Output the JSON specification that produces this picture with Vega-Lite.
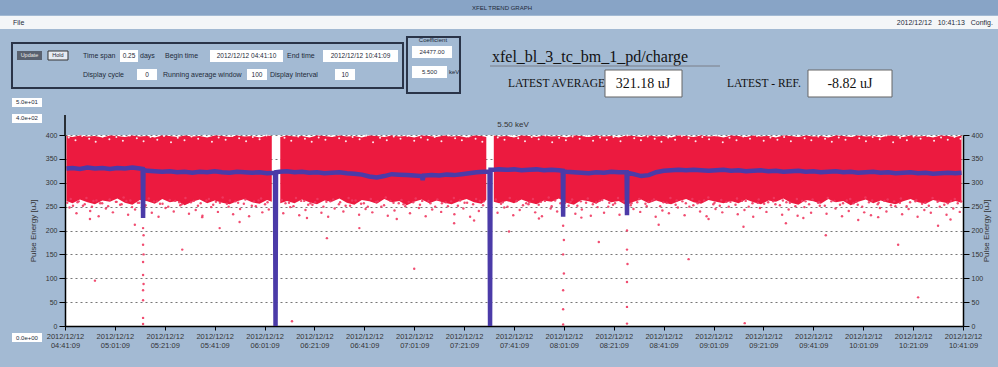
{
"$schema": "https://vega.github.io/schema/vega-lite/v6.json",
"width": 898, "height": 191,
"autosize": {"type": "none"},
"padding": {"left": 65, "top": 135, "right": 35, "bottom": 41},
"background": "#a3bad3",
"config": {"view": {"fill": "white", "stroke": null}, "font": "Liberation Sans",
 "text": {"font": "Liberation Sans", "fontSize": 7, "color": "#1e2a3a", "baseline": "middle"}},
"data": {"values": [{}]},
"datasets": {
 "band": [
  {"m":0.6,"lo":262,"hi":398},{"m":3,"lo":257,"hi":396},{"m":6,"lo":265,"hi":399},{"m":9,"lo":259,"hi":397},{"m":12,"lo":255,"hi":398},{"m":15,"lo":263,"hi":395},{"m":18,"lo":260,"hi":399},{"m":21,"lo":267,"hi":398},{"m":24,"lo":258,"hi":396},{"m":27,"lo":254,"hi":399},{"m":30,"lo":264,"hi":397},{"m":33,"lo":261,"hi":398},{"m":36,"lo":256,"hi":395},{"m":39,"lo":266,"hi":399},{"m":42,"lo":259,"hi":398},{"m":45,"lo":262,"hi":396},{"m":48,"lo":253,"hi":399},{"m":51,"lo":260,"hi":397},{"m":54,"lo":265,"hi":398},{"m":57,"lo":257,"hi":395},{"m":60,"lo":263,"hi":399},{"m":63,"lo":258,"hi":398},{"m":66,"lo":255,"hi":396},{"m":69,"lo":261,"hi":399},{"m":72,"lo":266,"hi":397},{"m":75,"lo":259,"hi":398},{"m":78,"lo":256,"hi":395},{"m":81,"lo":264,"hi":399},{"m":82.9,"lo":260,"hi":398},
  {"m":83,"lo":null,"hi":null},{"m":86.2,"lo":null,"hi":null},
  {"m":86.3,"lo":257,"hi":396},{"m":89,"lo":262,"hi":399},{"m":92,"lo":257,"hi":397},{"m":95,"lo":265,"hi":398},{"m":98,"lo":259,"hi":395},{"m":101,"lo":255,"hi":399},{"m":104,"lo":263,"hi":398},{"m":107,"lo":260,"hi":396},{"m":110,"lo":267,"hi":399},{"m":113,"lo":258,"hi":397},{"m":116,"lo":254,"hi":398},{"m":119,"lo":264,"hi":395},{"m":122,"lo":261,"hi":399},{"m":125,"lo":256,"hi":398},{"m":128,"lo":266,"hi":396},{"m":131,"lo":259,"hi":399},{"m":134,"lo":262,"hi":397},{"m":137,"lo":253,"hi":398},{"m":140,"lo":260,"hi":395},{"m":143,"lo":265,"hi":399},{"m":146,"lo":257,"hi":398},{"m":149,"lo":263,"hi":396},{"m":152,"lo":258,"hi":399},{"m":155,"lo":255,"hi":397},{"m":158,"lo":261,"hi":398},{"m":161,"lo":266,"hi":395},{"m":164,"lo":259,"hi":399},{"m":167,"lo":256,"hi":398},{"m":168.9,"lo":264,"hi":396},
  {"m":169,"lo":null,"hi":null},{"m":171.8,"lo":null,"hi":null},
  {"m":171.9,"lo":260,"hi":399},{"m":174,"lo":257,"hi":397},{"m":177,"lo":262,"hi":398},{"m":180,"lo":257,"hi":395},{"m":183,"lo":265,"hi":399},{"m":186,"lo":259,"hi":398},{"m":189,"lo":255,"hi":396},{"m":192,"lo":263,"hi":399},{"m":195,"lo":260,"hi":397},{"m":198,"lo":267,"hi":398},{"m":201,"lo":258,"hi":395},{"m":204,"lo":254,"hi":399},{"m":207,"lo":264,"hi":398},{"m":210,"lo":261,"hi":396},{"m":213,"lo":256,"hi":399},{"m":216,"lo":266,"hi":397},{"m":219,"lo":259,"hi":398},{"m":222,"lo":262,"hi":395},{"m":225,"lo":253,"hi":399},{"m":228,"lo":260,"hi":398},{"m":231,"lo":265,"hi":396},{"m":234,"lo":257,"hi":399},{"m":237,"lo":263,"hi":397},{"m":240,"lo":258,"hi":398},{"m":243,"lo":255,"hi":395},{"m":246,"lo":261,"hi":399},{"m":249,"lo":266,"hi":398},{"m":252,"lo":259,"hi":396},{"m":255,"lo":256,"hi":399},{"m":258,"lo":264,"hi":397},{"m":261,"lo":260,"hi":398},{"m":264,"lo":257,"hi":395},{"m":267,"lo":262,"hi":399},{"m":270,"lo":257,"hi":398},{"m":273,"lo":265,"hi":396},{"m":276,"lo":259,"hi":399},{"m":279,"lo":255,"hi":397},{"m":282,"lo":263,"hi":398},{"m":285,"lo":260,"hi":395},{"m":288,"lo":267,"hi":399},{"m":291,"lo":258,"hi":398},{"m":294,"lo":254,"hi":396},{"m":297,"lo":264,"hi":399},{"m":300,"lo":261,"hi":397},{"m":303,"lo":256,"hi":398},{"m":306,"lo":266,"hi":395},{"m":309,"lo":259,"hi":399},{"m":312,"lo":262,"hi":398},{"m":315,"lo":253,"hi":396},{"m":318,"lo":260,"hi":399},{"m":321,"lo":265,"hi":397},{"m":324,"lo":257,"hi":398},{"m":327,"lo":263,"hi":395},{"m":330,"lo":258,"hi":399},{"m":333,"lo":255,"hi":398},{"m":336,"lo":261,"hi":396},{"m":339,"lo":266,"hi":399},{"m":342,"lo":259,"hi":397},{"m":345,"lo":256,"hi":398},{"m":348,"lo":264,"hi":395},{"m":351,"lo":260,"hi":399},{"m":354,"lo":257,"hi":398},{"m":357,"lo":262,"hi":396},{"m":359.4,"lo":258,"hi":399}
 ],
 "avg": [
  {"m":0.6,"v":330},{"m":3,"v":331},{"m":6,"v":329},{"m":9,"v":332},{"m":12,"v":330},{"m":15,"v":331},{"m":18,"v":329},{"m":21,"v":331},{"m":24,"v":330},{"m":27,"v":332},{"m":30,"v":330},{"m":31.15,"v":329},{"m":31.3,"v":226},{"m":31.45,"v":327},{"m":33,"v":325},{"m":36,"v":324},{"m":39,"v":323},{"m":42,"v":324},{"m":45,"v":322},{"m":48,"v":323},{"m":51,"v":321},{"m":54,"v":323},{"m":57,"v":322},{"m":60,"v":324},{"m":63,"v":322},{"m":66,"v":321},{"m":69,"v":323},{"m":72,"v":322},{"m":75,"v":321},{"m":78,"v":322},{"m":81,"v":320},{"m":84.2,"v":321},{"m":84.4,"v":0},{"m":84.6,"v":322},
  {"m":86,"v":323},{"m":89,"v":324},{"m":92,"v":322},{"m":95,"v":323},{"m":98,"v":321},{"m":101,"v":322},{"m":104,"v":320},{"m":107,"v":321},{"m":110,"v":322},{"m":113,"v":320},{"m":116,"v":319},{"m":119,"v":317},{"m":122,"v":313},{"m":125,"v":311},{"m":128,"v":314},{"m":131,"v":318},{"m":134,"v":317},{"m":137,"v":316},{"m":140,"v":315},{"m":143,"v":314},{"m":143.4,"v":306},{"m":143.8,"v":315},{"m":147,"v":316},{"m":150,"v":315},{"m":153,"v":317},{"m":156,"v":316},{"m":159,"v":318},{"m":162,"v":320},{"m":165,"v":322},{"m":168,"v":323},{"m":170.2,"v":323},{"m":170.4,"v":0},{"m":170.6,"v":327},
  {"m":171.9,"v":327},{"m":174,"v":328},{"m":177,"v":327},{"m":180,"v":328},{"m":183,"v":326},{"m":186,"v":327},{"m":189,"v":328},{"m":192,"v":326},{"m":195,"v":327},{"m":198,"v":326},{"m":199.55,"v":325},{"m":199.7,"v":229},{"m":199.85,"v":324},{"m":201,"v":323},{"m":204,"v":322},{"m":207,"v":321},{"m":210,"v":320},{"m":213,"v":322},{"m":216,"v":321},{"m":219,"v":323},{"m":222,"v":322},{"m":225.15,"v":322},{"m":225.3,"v":232},{"m":225.45,"v":321},{"m":228,"v":318},{"m":231,"v":314},{"m":234,"v":316},{"m":237,"v":322},{"m":240,"v":325},{"m":243,"v":326},{"m":246,"v":327},{"m":249,"v":326},{"m":252,"v":327},{"m":255,"v":326},{"m":258,"v":325},{"m":261,"v":326},{"m":264,"v":327},{"m":267,"v":325},{"m":270,"v":326},{"m":273,"v":324},{"m":276,"v":325},{"m":279,"v":326},{"m":282,"v":324},{"m":285,"v":325},{"m":288,"v":323},{"m":291,"v":324},{"m":294,"v":325},{"m":297,"v":323},{"m":300,"v":324},{"m":303,"v":322},{"m":306,"v":323},{"m":309,"v":324},{"m":312,"v":322},{"m":315,"v":323},{"m":318,"v":321},{"m":321,"v":322},{"m":324,"v":323},{"m":327,"v":321},{"m":330,"v":322},{"m":333,"v":320},{"m":336,"v":321},{"m":339,"v":322},{"m":342,"v":320},{"m":345,"v":321},{"m":348,"v":319},{"m":351,"v":320},{"m":354,"v":321},{"m":357,"v":320},{"m":359.4,"v":321}
 ],
 "fringe": [
  {"m":1.8,"v":248},{"m":4.6,"v":236},{"m":7.2,"v":252},{"m":10.1,"v":241},{"m":13.5,"v":230},{"m":16.4,"v":246},{"m":19.2,"v":238},{"m":22.7,"v":255},{"m":25.3,"v":233},{"m":28.1,"v":244},{"m":31.9,"v":250},{"m":34.8,"v":237},{"m":37.5,"v":229},{"m":40.3,"v":247},{"m":43.6,"v":240},{"m":46.2,"v":253},{"m":49.7,"v":235},{"m":52.4,"v":243},{"m":55.1,"v":231},{"m":58.6,"v":249},{"m":61.3,"v":239},{"m":64.9,"v":256},{"m":67.4,"v":234},{"m":70.2,"v":245},{"m":73.8,"v":230},{"m":76.5,"v":251},{"m":79.1,"v":238},{"m":81.7,"v":244},{"m":87.5,"v":236},{"m":90.3,"v":249},{"m":93.9,"v":232},{"m":96.4,"v":243},{"m":99.2,"v":254},{"m":102.8,"v":237},{"m":105.5,"v":229},{"m":108.1,"v":246},{"m":111.6,"v":240},{"m":114.3,"v":252},{"m":117.9,"v":233},{"m":120.5,"v":245},{"m":123.2,"v":238},{"m":126.8,"v":250},{"m":129.4,"v":231},{"m":132.1,"v":242},{"m":135.7,"v":255},{"m":138.3,"v":236},{"m":141.9,"v":247},{"m":144.6,"v":230},{"m":147.2,"v":244},{"m":150.8,"v":239},{"m":153.5,"v":251},{"m":156.1,"v":234},{"m":159.7,"v":246},{"m":162.4,"v":229},{"m":165.9,"v":241},{"m":167.6,"v":253},{"m":173.4,"v":237},{"m":176.1,"v":248},{"m":179.7,"v":232},{"m":182.3,"v":243},{"m":185.8,"v":255},{"m":188.5,"v":238},{"m":191.2,"v":230},{"m":194.7,"v":246},{"m":197.3,"v":240},{"m":201.9,"v":252},{"m":204.6,"v":235},{"m":207.2,"v":244},{"m":210.8,"v":231},{"m":213.5,"v":249},{"m":216.1,"v":237},{"m":219.7,"v":254},{"m":222.3,"v":233},{"m":227.9,"v":245},{"m":230.6,"v":239},{"m":233.2,"v":251},{"m":236.8,"v":229},{"m":239.5,"v":242},{"m":242.1,"v":236},{"m":245.7,"v":248},{"m":248.4,"v":232},{"m":251.9,"v":253},{"m":254.6,"v":240},{"m":257.2,"v":230},{"m":260.8,"v":245},{"m":263.5,"v":238},{"m":266.1,"v":250},{"m":269.7,"v":234},{"m":272.4,"v":243},{"m":275.9,"v":229},{"m":278.6,"v":247},{"m":281.2,"v":239},{"m":284.8,"v":255},{"m":287.5,"v":233},{"m":290.1,"v":244},{"m":293.7,"v":231},{"m":296.4,"v":249},{"m":299.1,"v":237},{"m":302.6,"v":252},{"m":305.3,"v":235},{"m":308.9,"v":246},{"m":311.5,"v":230},{"m":314.2,"v":241},{"m":317.8,"v":254},{"m":320.4,"v":238},{"m":323.1,"v":232},{"m":326.7,"v":247},{"m":329.3,"v":240},{"m":332.9,"v":251},{"m":335.6,"v":234},{"m":338.2,"v":245},{"m":341.8,"v":229},{"m":344.5,"v":243},{"m":347.1,"v":237},{"m":350.7,"v":250},{"m":353.4,"v":233},{"m":356.1,"v":246},{"m":358.7,"v":239},
  {"m":0.9,"v":258},{"m":3.2,"v":252},{"m":5.5,"v":261},{"m":7.9,"v":255},{"m":10.8,"v":250},{"m":12.6,"v":263},{"m":14.9,"v":257},{"m":17.3,"v":251},{"m":20.4,"v":260},{"m":22.1,"v":254},{"m":24.6,"v":262},{"m":26.9,"v":249},{"m":29.2,"v":258},{"m":32.3,"v":253},{"m":35.7,"v":261},{"m":38.1,"v":256},{"m":41.4,"v":250},{"m":44.2,"v":262},{"m":46.8,"v":255},{"m":50.5,"v":259},{"m":53.3,"v":252},{"m":56.7,"v":263},{"m":59.4,"v":254},{"m":62.1,"v":258},{"m":65.6,"v":250},{"m":68.3,"v":261},{"m":71.7,"v":256},{"m":74.9,"v":252},{"m":77.6,"v":263},{"m":80.2,"v":255},{"m":88.4,"v":257},{"m":91.6,"v":251},{"m":94.7,"v":262},{"m":97.5,"v":254},{"m":100.3,"v":259},{"m":103.6,"v":250},{"m":106.4,"v":261},{"m":109.8,"v":255},{"m":112.5,"v":252},{"m":115.1,"v":263},{"m":118.7,"v":256},{"m":121.4,"v":250},{"m":124.6,"v":260},{"m":127.9,"v":253},{"m":130.5,"v":262},{"m":133.8,"v":257},{"m":136.4,"v":251},{"m":139.6,"v":259},{"m":142.3,"v":254},{"m":145.7,"v":262},{"m":148.4,"v":250},{"m":151.1,"v":257},{"m":154.8,"v":261},{"m":157.5,"v":252},{"m":160.2,"v":258},{"m":163.6,"v":255},{"m":166.3,"v":262},{"m":174.8,"v":256},{"m":177.4,"v":250},{"m":180.9,"v":261},{"m":183.6,"v":253},{"m":186.2,"v":259},{"m":189.9,"v":254},{"m":192.4,"v":262},{"m":195.1,"v":251},{"m":198.6,"v":257},{"m":202.7,"v":260},{"m":205.4,"v":252},{"m":208.9,"v":258},{"m":211.6,"v":255},{"m":214.3,"v":262},{"m":217.8,"v":250},{"m":220.5,"v":257},{"m":223.9,"v":261},{"m":226.8,"v":253},{"m":229.4,"v":259},{"m":232.7,"v":256},{"m":235.3,"v":262},{"m":238.6,"v":251},{"m":241.2,"v":258},{"m":244.8,"v":254},{"m":247.5,"v":261},{"m":250.3,"v":250},{"m":253.6,"v":257},{"m":256.2,"v":263},{"m":259.9,"v":255},{"m":262.5,"v":252},{"m":265.2,"v":260},{"m":268.8,"v":254},{"m":271.4,"v":262},{"m":274.1,"v":250},{"m":277.7,"v":258},{"m":280.3,"v":256},{"m":283.9,"v":261},{"m":286.6,"v":253},{"m":289.2,"v":259},{"m":292.8,"v":251},{"m":295.5,"v":262},{"m":298.3,"v":255},{"m":301.9,"v":258},{"m":304.6,"v":252},{"m":307.2,"v":261},{"m":310.7,"v":254},{"m":313.4,"v":263},{"m":316.1,"v":257},{"m":319.6,"v":250},{"m":322.3,"v":259},{"m":325.8,"v":255},{"m":328.5,"v":262},{"m":331.1,"v":253},{"m":334.7,"v":258},{"m":337.4,"v":251},{"m":340.9,"v":261},{"m":343.6,"v":256},{"m":346.3,"v":252},{"m":349.8,"v":260},{"m":352.5,"v":254},{"m":355.2,"v":262},{"m":357.9,"v":257},
  {"m":2.3,"v":266},{"m":5.0,"v":259},{"m":8.6,"v":268},{"m":11.4,"v":262},{"m":14.1,"v":257},{"m":17.9,"v":265},{"m":20.7,"v":260},{"m":23.5,"v":269},{"m":26.2,"v":263},{"m":29.8,"v":258},{"m":33.6,"v":267},{"m":36.9,"v":261},{"m":39.1,"v":256},{"m":42.0,"v":264},{"m":45.8,"v":259},{"m":48.3,"v":268},{"m":51.6,"v":262},{"m":54.4,"v":257},{"m":57.7,"v":266},{"m":60.5,"v":260},{"m":63.2,"v":269},{"m":66.1,"v":263},{"m":69.4,"v":258},{"m":72.3,"v":265},{"m":75.8,"v":261},{"m":78.6,"v":267},{"m":81.2,"v":259},{"m":86.9,"v":264},{"m":89.8,"v":258},{"m":92.6,"v":268},{"m":95.9,"v":262},{"m":98.4,"v":257},{"m":101.2,"v":266},{"m":104.8,"v":260},{"m":107.5,"v":265},{"m":110.3,"v":259},{"m":113.7,"v":268},{"m":116.5,"v":263},{"m":119.8,"v":257},{"m":122.6,"v":266},{"m":125.3,"v":261},{"m":128.6,"v":269},{"m":131.7,"v":258},{"m":134.9,"v":264},{"m":137.8,"v":260},{"m":140.6,"v":267},{"m":143.2,"v":262},{"m":146.5,"v":257},{"m":149.3,"v":265},{"m":152.6,"v":259},{"m":155.9,"v":268},{"m":158.4,"v":263},{"m":161.2,"v":258},{"m":164.8,"v":266},{"m":167.9,"v":261},{"m":172.7,"v":265},{"m":175.5,"v":259},{"m":178.3,"v":268},{"m":181.1,"v":262},{"m":184.9,"v":257},{"m":187.6,"v":266},{"m":190.8,"v":260},{"m":193.9,"v":269},{"m":196.5,"v":263},{"m":200.5,"v":258},{"m":203.3,"v":265},{"m":206.8,"v":261},{"m":209.6,"v":267},{"m":212.9,"v":259},{"m":215.4,"v":264},{"m":218.2,"v":258},{"m":221.7,"v":268},{"m":224.5,"v":262},{"m":227.1,"v":257},{"m":230.2,"v":266},{"m":233.9,"v":260},{"m":236.1,"v":265},{"m":239.9,"v":259},{"m":242.7,"v":268},{"m":245.2,"v":263},{"m":248.9,"v":257},{"m":251.5,"v":266},{"m":254.3,"v":261},{"m":257.9,"v":269},{"m":260.4,"v":258},{"m":263.1,"v":264},{"m":266.8,"v":260},{"m":269.4,"v":267},{"m":272.9,"v":262},{"m":275.6,"v":257},{"m":278.1,"v":265},{"m":281.9,"v":259},{"m":284.2,"v":268},{"m":287.8,"v":263},{"m":290.6,"v":258},{"m":293.4,"v":266},{"m":296.9,"v":261},{"m":299.7,"v":265},{"m":302.3,"v":259},{"m":305.8,"v":268},{"m":308.5,"v":262},{"m":311.9,"v":257},{"m":314.8,"v":266},{"m":317.3,"v":260},{"m":320.9,"v":269},{"m":323.6,"v":263},{"m":326.2,"v":258},{"m":329.8,"v":265},{"m":332.4,"v":261},{"m":335.1,"v":267},{"m":338.8,"v":259},{"m":341.3,"v":264},{"m":344.9,"v":258},{"m":347.8,"v":268},{"m":350.2,"v":262},{"m":353.9,"v":257},{"m":356.7,"v":266},{"m":359.3,"v":261},
  {"m":31.3,"v":205},{"m":31.3,"v":170},{"m":31.3,"v":134},{"m":31.3,"v":107},{"m":31.3,"v":75},{"m":31.3,"v":54},{"m":31.3,"v":17},{"m":31.3,"v":4},{"m":31.5,"v":190},{"m":31.5,"v":150},{"m":31.5,"v":88},
  {"m":199.7,"v":210},{"m":199.7,"v":150},{"m":199.7,"v":75},{"m":199.7,"v":35},{"m":199.7,"v":3},{"m":200,"v":180},{"m":200,"v":110},
  {"m":225.3,"v":200},{"m":225.3,"v":160},{"m":225.3,"v":92},{"m":225.3,"v":40},{"m":225.3,"v":5},{"m":225.5,"v":130},
  {"m":12,"v":95},{"m":28,"v":212},{"m":47,"v":160},{"m":62,"v":205},{"m":91,"v":10},{"m":70,"v":218},{"m":105,"v":184},{"m":118,"v":205},{"m":140,"v":120},{"m":156,"v":215},{"m":178,"v":198},{"m":190,"v":225},{"m":214,"v":176},{"m":238,"v":212},{"m":250,"v":140},{"m":272,"v":208},{"m":272.5,"v":6},{"m":289,"v":215},{"m":305,"v":190},{"m":318,"v":222},{"m":334,"v":170},{"m":342,"v":60},{"m":350,"v":210},{"m":10,"v":224},{"m":55,"v":228},{"m":97,"v":226},{"m":133,"v":224},{"m":164,"v":221},{"m":207,"v":227},{"m":258,"v":224},{"m":296,"v":226},{"m":326,"v":228},{"m":355,"v":223}
 ],
 "specks": [
  {"m":1.5,"v":395},{"m":4.2,"v":389},{"m":6.9,"v":398},{"m":9.7,"v":392},{"m":12.3,"v":386},{"m":15.1,"v":397},{"m":17.8,"v":391},{"m":20.6,"v":396},{"m":23.2,"v":388},{"m":26,"v":399},{"m":28.8,"v":393},{"m":31.5,"v":387},{"m":34.3,"v":396},{"m":37,"v":390},{"m":39.7,"v":398},{"m":42.5,"v":385},{"m":45.2,"v":394},{"m":47.9,"v":389},{"m":50.7,"v":397},{"m":53.4,"v":392},{"m":56.1,"v":399},{"m":58.9,"v":386},{"m":61.6,"v":395},{"m":64.4,"v":390},{"m":67.1,"v":398},{"m":69.8,"v":393},{"m":72.6,"v":387},{"m":75.3,"v":396},{"m":78,"v":391},{"m":80.8,"v":399},{"m":88,"v":394},{"m":90.7,"v":388},{"m":93.5,"v":397},{"m":96.2,"v":392},{"m":98.9,"v":386},{"m":101.7,"v":395},{"m":104.4,"v":390},{"m":107.1,"v":398},{"m":109.9,"v":393},{"m":112.6,"v":387},{"m":115.3,"v":396},{"m":118.1,"v":391},{"m":120.8,"v":399},{"m":123.5,"v":385},{"m":126.3,"v":394},{"m":129,"v":389},{"m":131.8,"v":397},{"m":134.5,"v":392},{"m":137.2,"v":398},{"m":140,"v":388},{"m":142.7,"v":395},{"m":145.4,"v":390},{"m":148.2,"v":396},{"m":150.9,"v":387},{"m":153.6,"v":399},{"m":156.4,"v":393},{"m":159.1,"v":389},{"m":161.8,"v":397},{"m":164.6,"v":392},{"m":167.3,"v":386},{"m":173.5,"v":395},{"m":176.2,"v":390},{"m":178.9,"v":398},{"m":181.7,"v":393},{"m":184.4,"v":387},{"m":187.1,"v":396},{"m":189.9,"v":391},{"m":192.6,"v":399},{"m":195.3,"v":385},{"m":198.1,"v":394},{"m":200.8,"v":389},{"m":203.5,"v":397},{"m":206.3,"v":392},{"m":209,"v":398},{"m":211.7,"v":388},{"m":214.5,"v":395},{"m":217.2,"v":390},{"m":219.9,"v":396},{"m":222.7,"v":387},{"m":225.4,"v":399},{"m":228.2,"v":393},{"m":230.9,"v":389},{"m":233.6,"v":397},{"m":236.4,"v":392},{"m":239.1,"v":386},{"m":241.8,"v":395},{"m":244.6,"v":390},{"m":247.3,"v":398},{"m":250,"v":393},{"m":252.8,"v":387},{"m":255.5,"v":396},{"m":258.2,"v":391},{"m":261,"v":399},{"m":263.7,"v":385},{"m":266.4,"v":394},{"m":269.2,"v":389},{"m":271.9,"v":397},{"m":274.6,"v":392},{"m":277.4,"v":398},{"m":280.1,"v":388},{"m":282.8,"v":395},{"m":285.6,"v":390},{"m":288.3,"v":396},{"m":291,"v":387},{"m":293.8,"v":399},{"m":296.5,"v":393},{"m":299.2,"v":389},{"m":302,"v":397},{"m":304.7,"v":392},{"m":307.4,"v":386},{"m":310.2,"v":395},{"m":312.9,"v":390},{"m":315.6,"v":398},{"m":318.4,"v":393},{"m":321.1,"v":387},{"m":323.8,"v":396},{"m":326.6,"v":391},{"m":329.3,"v":399},{"m":332,"v":385},{"m":334.8,"v":394},{"m":337.5,"v":389},{"m":340.2,"v":397},{"m":343,"v":392},{"m":345.7,"v":398},{"m":348.4,"v":388},{"m":351.2,"v":395},{"m":353.9,"v":390},{"m":356.6,"v":396},{"m":359,"v":392}
 ]
},
"layer": [
  {"data": {"name": "band"},
   "mark": {"type": "area", "color": "#ec1a3f", "clip": false},
   "encoding": {
    "x": {"field": "m", "type": "quantitative",
     "scale": {"domain": [0, 360], "nice": false, "zero": false},
     "axis": {"orient": "bottom", "values": [0,20,40,60,80,100,120,140,160,180,200,220,240,260,280,300,320,340,360],
      "labelExpr": "[timeFormat(datetime(2012,11,12,4,41+datum.value,9),'%Y/%m/%d'), timeFormat(datetime(2012,11,12,4,41+datum.value,9),'%H:%M:%S')]",
      "labelFontSize": 7.5, "labelColor": "#333", "labelLineHeight": 9.5, "labelPadding": 2,
      "labelOverlap": false, "labelFlush": false, "tickSize": 4, "tickColor": "#000",
      "domainColor": "#000", "domainWidth": 1.5, "grid": false, "title": null}},
    "y": {"field": "lo", "type": "quantitative",
     "scale": {"domain": [0, 400], "nice": false, "zero": false},
     "axis": {"orient": "left", "values": [0,50,100,150,200,250,300,350,400],
      "grid": true, "gridDash": [2, 3], "gridColor": "#777", "gridWidth": 1,
      "tickSize": 6, "tickColor": "#000", "domainColor": "#000", "domainWidth": 1.5,
      "labelFontSize": 7, "labelColor": "#333", "labelPadding": 2, "labelOverlap": false,
      "title": "Pulse Energy [uJ]", "titleFontSize": 8, "titleFontWeight": "normal",
      "titleColor": "#333", "titlePadding": 8}},
    "y2": {"field": "hi"}}},
  {"data": {"name": "fringe"},
   "mark": {"type": "circle", "color": "#ef3a62", "size": 6, "opacity": 0.9, "clip": false},
   "encoding": {"x": {"field": "m", "type": "quantitative", "axis": null}, "y": {"field": "v", "type": "quantitative", "axis": null}}},
  {"data": {"name": "specks"},
   "mark": {"type": "circle", "color": "#ffffff", "size": 4, "opacity": 0.9, "clip": false},
   "encoding": {"x": {"field": "m", "type": "quantitative", "axis": null}, "y": {"field": "v", "type": "quantitative", "axis": null}}},
  {"mark": {"type": "text", "fontSize": 8, "color": "#333", "text": "5.50 keV", "clip": false},
   "encoding": {"x": {"datum": 179.6, "axis": null}, "y": {"datum": 421, "axis": null}}},
  {"mark": {"type": "rule", "color": "#000", "strokeWidth": 1.5, "clip": false},
   "encoding": {"x": {"datum": 0, "axis": null}, "y": {"datum": 400, "axis": null}, "y2": {"datum": 442}}},

  {"mark": {"type": "rect", "color": "#88a4c6", "clip": false},
   "encoding": {"x": {"datum": -26.1, "axis": null}, "x2": {"datum": 374.1}, "y": {"datum": 682.7, "axis": null}, "y2": {"datum": 651.3}}},
  {"mark": {"type": "text", "text": "XFEL TREND GRAPH", "fontSize": 6, "align": "center", "clip": false},
   "encoding": {"x": {"datum": 175.2, "axis": null}, "y": {"datum": 666, "axis": null}}},
  {"mark": {"type": "rect", "color": "#f4f6f8", "clip": false},
   "encoding": {"x": {"datum": -26.1, "axis": null}, "x2": {"datum": 374.1}, "y": {"datum": 649.2, "axis": null}, "y2": {"datum": 622}}},
  {"mark": {"type": "text", "text": "File", "align": "left", "clip": false},
   "encoding": {"x": {"datum": -20.85, "axis": null}, "y": {"datum": 634.6, "axis": null}}},
  {"mark": {"type": "text", "text": "2012/12/12\u00a0\u00a0\u00a010:41:13\u00a0\u00a0\u00a0Config.", "align": "right", "clip": false},
   "encoding": {"x": {"datum": 372, "axis": null}, "y": {"datum": 634.6, "axis": null}}},

  {"mark": {"type": "rect", "filled": false, "color": "#2a3448", "strokeWidth": 2, "clip": false},
   "encoding": {"x": {"datum": -21.25, "axis": null}, "x2": {"datum": 135.5}, "y": {"datum": 592.7, "axis": null}, "y2": {"datum": 498.4}}},
  {"mark": {"type": "rect", "color": "#59616f", "clip": false},
   "encoding": {"x": {"datum": -19.24, "axis": null}, "x2": {"datum": -9.22}, "y": {"datum": 575.9, "axis": null}, "y2": {"datum": 557.1}}},
  {"mark": {"type": "text", "text": "Update", "fontSize": 5.5, "color": "#e8e8e8", "align": "center", "clip": false},
   "encoding": {"x": {"datum": -14.23, "axis": null}, "y": {"datum": 566.5, "axis": null}}},
  {"mark": {"type": "rect", "color": "#e6ebf2", "stroke": "#333", "strokeWidth": 1, "clip": false},
   "encoding": {"x": {"datum": -6.82, "axis": null}, "x2": {"datum": 1.2}, "y": {"datum": 575.9, "axis": null}, "y2": {"datum": 557.1}}},
  {"mark": {"type": "text", "text": "Hold", "fontSize": 5.5, "align": "center", "clip": false},
   "encoding": {"x": {"datum": -2.81, "axis": null}, "y": {"datum": 566.5, "axis": null}}},
  {"mark": {"type": "text", "text": "Time span", "align": "left", "clip": false},
   "encoding": {"x": {"datum": 7.22, "axis": null}, "y": {"datum": 565.4, "axis": null}}},
  {"mark": {"type": "rect", "color": "#ffffff", "clip": false},
   "encoding": {"x": {"datum": 22.05, "axis": null}, "x2": {"datum": 29.27}, "y": {"datum": 578, "axis": null}, "y2": {"datum": 552.9}}},
  {"mark": {"type": "text", "text": "0.25", "fontSize": 6.5, "align": "center", "clip": false},
   "encoding": {"x": {"datum": 25.66, "axis": null}, "y": {"datum": 565.4, "axis": null}}},
  {"mark": {"type": "text", "text": "days", "align": "left", "clip": false},
   "encoding": {"x": {"datum": 30.07, "axis": null}, "y": {"datum": 565.4, "axis": null}}},
  {"mark": {"type": "text", "text": "Begin time", "align": "left", "clip": false},
   "encoding": {"x": {"datum": 40.09, "axis": null}, "y": {"datum": 565.4, "axis": null}}},
  {"mark": {"type": "rect", "color": "#ffffff", "clip": false},
   "encoding": {"x": {"datum": 58.13, "axis": null}, "x2": {"datum": 87.39}, "y": {"datum": 578, "axis": null}, "y2": {"datum": 552.9}}},
  {"mark": {"type": "text", "text": "2012/12/12 04:41:10", "fontSize": 6.5, "align": "center", "clip": false},
   "encoding": {"x": {"datum": 72.76, "axis": null}, "y": {"datum": 565.4, "axis": null}}},
  {"mark": {"type": "text", "text": "End time", "align": "left", "clip": false},
   "encoding": {"x": {"datum": 89, "axis": null}, "y": {"datum": 565.4, "axis": null}}},
  {"mark": {"type": "rect", "color": "#ffffff", "clip": false},
   "encoding": {"x": {"datum": 103.43, "axis": null}, "x2": {"datum": 133.5}, "y": {"datum": 578, "axis": null}, "y2": {"datum": 552.9}}},
  {"mark": {"type": "text", "text": "2012/12/12 10:41:09", "fontSize": 6.5, "align": "center", "clip": false},
   "encoding": {"x": {"datum": 118.46, "axis": null}, "y": {"datum": 565.4, "axis": null}}},
  {"mark": {"type": "text", "text": "Display cycle", "align": "left", "clip": false},
   "encoding": {"x": {"datum": 7.22, "axis": null}, "y": {"datum": 526.7, "axis": null}}},
  {"mark": {"type": "rect", "color": "#ffffff", "clip": false},
   "encoding": {"x": {"datum": 28.86, "axis": null}, "x2": {"datum": 36.88}, "y": {"datum": 538.2, "axis": null}, "y2": {"datum": 515.2}}},
  {"mark": {"type": "text", "text": "0", "fontSize": 6.5, "align": "center", "clip": false},
   "encoding": {"x": {"datum": 32.87, "axis": null}, "y": {"datum": 526.7, "axis": null}}},
  {"mark": {"type": "text", "text": "Running average window", "align": "left", "clip": false},
   "encoding": {"x": {"datum": 39.29, "axis": null}, "y": {"datum": 526.7, "axis": null}}},
  {"mark": {"type": "rect", "color": "#ffffff", "clip": false},
   "encoding": {"x": {"datum": 72.96, "axis": null}, "x2": {"datum": 80.98}, "y": {"datum": 538.2, "axis": null}, "y2": {"datum": 515.2}}},
  {"mark": {"type": "text", "text": "100", "fontSize": 6.5, "align": "center", "clip": false},
   "encoding": {"x": {"datum": 76.97, "axis": null}, "y": {"datum": 526.7, "axis": null}}},
  {"mark": {"type": "text", "text": "Display Interval", "align": "left", "clip": false},
   "encoding": {"x": {"datum": 82.18, "axis": null}, "y": {"datum": 526.7, "axis": null}}},
  {"mark": {"type": "rect", "color": "#ffffff", "clip": false},
   "encoding": {"x": {"datum": 108.24, "axis": null}, "x2": {"datum": 116.26}, "y": {"datum": 538.2, "axis": null}, "y2": {"datum": 515.2}}},
  {"mark": {"type": "text", "text": "10", "fontSize": 6.5, "align": "center", "clip": false},
   "encoding": {"x": {"datum": 112.25, "axis": null}, "y": {"datum": 526.7, "axis": null}}},

  {"mark": {"type": "rect", "filled": false, "color": "#2a3448", "strokeWidth": 2, "clip": false},
   "encoding": {"x": {"datum": 137.1, "axis": null}, "x2": {"datum": 158.35}, "y": {"datum": 605.2, "axis": null}, "y2": {"datum": 488}}},
  {"mark": {"type": "text", "text": "Coefficient", "fontSize": 6, "align": "center", "clip": false},
   "encoding": {"x": {"datum": 147.5, "axis": null}, "y": {"datum": 598.9, "axis": null}}},
  {"mark": {"type": "rect", "color": "#ffffff", "clip": false},
   "encoding": {"x": {"datum": 139.11, "axis": null}, "x2": {"datum": 155.15}, "y": {"datum": 586.4, "axis": null}, "y2": {"datum": 561.3}}},
  {"mark": {"type": "text", "text": "24477.00", "fontSize": 6, "align": "center", "clip": false},
   "encoding": {"x": {"datum": 147.13, "axis": null}, "y": {"datum": 573.8, "axis": null}}},
  {"mark": {"type": "rect", "color": "#ffffff", "clip": false},
   "encoding": {"x": {"datum": 139.11, "axis": null}, "x2": {"datum": 153.14}, "y": {"datum": 544.5, "axis": null}, "y2": {"datum": 519.4}}},
  {"mark": {"type": "text", "text": "5.500", "fontSize": 6, "align": "center", "clip": false},
   "encoding": {"x": {"datum": 146.12, "axis": null}, "y": {"datum": 531.9, "axis": null}}},
  {"mark": {"type": "text", "text": "keV", "fontSize": 6, "align": "left", "clip": false},
   "encoding": {"x": {"datum": 153.94, "axis": null}, "y": {"datum": 531.9, "axis": null}}},

  {"mark": {"type": "text", "text": "xfel_bl_3_tc_bm_1_pd/charge", "font": "Liberation Serif", "fontSize": 16, "color": "#111", "align": "left", "clip": false},
   "encoding": {"x": {"datum": 171.18, "axis": null}, "y": {"datum": 563.4, "axis": null}}},
  {"mark": {"type": "rule", "color": "#7a7f88", "strokeWidth": 1, "clip": false},
   "encoding": {"x": {"datum": 170.38, "axis": null}, "x2": {"datum": 262.58}, "y": {"datum": 544.5, "axis": null}}},
  {"mark": {"type": "text", "text": "LATEST AVERAGE", "font": "Liberation Serif", "fontSize": 11.5, "color": "#111", "align": "left", "clip": false},
   "encoding": {"x": {"datum": 177.6, "axis": null}, "y": {"datum": 506.8, "axis": null}}},
  {"mark": {"type": "rect", "color": "#ffffff", "stroke": "#666", "strokeWidth": 1, "clip": false},
   "encoding": {"x": {"datum": 216.48, "axis": null}, "x2": {"datum": 247.35}, "y": {"datum": 536.1, "axis": null}, "y2": {"datum": 479.6}}},
  {"mark": {"type": "text", "text": "321.18 uJ", "font": "Liberation Serif", "fontSize": 14, "color": "#111", "align": "center", "clip": false},
   "encoding": {"x": {"datum": 231.72, "axis": null}, "y": {"datum": 506.8, "axis": null}}},
  {"mark": {"type": "text", "text": "LATEST - REF.", "font": "Liberation Serif", "fontSize": 11.5, "color": "#111", "align": "left", "clip": false},
   "encoding": {"x": {"datum": 265.39, "axis": null}, "y": {"datum": 506.8, "axis": null}}},
  {"mark": {"type": "rect", "color": "#ffffff", "stroke": "#666", "strokeWidth": 1, "clip": false},
   "encoding": {"x": {"datum": 297.86, "axis": null}, "x2": {"datum": 331.54}, "y": {"datum": 536.1, "axis": null}, "y2": {"datum": 479.6}}},
  {"mark": {"type": "text", "text": "-8.82 uJ", "font": "Liberation Serif", "fontSize": 14, "color": "#111", "align": "center", "clip": false},
   "encoding": {"x": {"datum": 314.7, "axis": null}, "y": {"datum": 506.8, "axis": null}}},

  {"mark": {"type": "rect", "color": "#ffffff", "clip": false},
   "encoding": {"x": {"datum": -21.25, "axis": null}, "x2": {"datum": -9.22}, "y": {"datum": 477.5, "axis": null}, "y2": {"datum": 458.6}}},
  {"mark": {"type": "text", "text": "5.0e+01", "fontSize": 6, "align": "center", "clip": false},
   "encoding": {"x": {"datum": -15.23, "axis": null}, "y": {"datum": 468.1, "axis": null}}},
  {"mark": {"type": "rect", "color": "#ffffff", "clip": false},
   "encoding": {"x": {"datum": -21.25, "axis": null}, "x2": {"datum": -9.22}, "y": {"datum": 444, "axis": null}, "y2": {"datum": 425.1}}},
  {"mark": {"type": "text", "text": "4.0e+02", "fontSize": 6, "align": "center", "clip": false},
   "encoding": {"x": {"datum": -15.23, "axis": null}, "y": {"datum": 434.6, "axis": null}}},
  {"mark": {"type": "rect", "color": "#ffffff", "clip": false},
   "encoding": {"x": {"datum": -21.25, "axis": null}, "x2": {"datum": -9.22}, "y": {"datum": -14.7, "axis": null}, "y2": {"datum": -33.5}}},
  {"mark": {"type": "text", "text": "0.0e+00", "fontSize": 6, "align": "center", "clip": false},
   "encoding": {"x": {"datum": -15.23, "axis": null}, "y": {"datum": -24.1, "axis": null}}},

 {"data": {"name": "avg"},
  "mark": {"type": "line", "color": "#4b3ba8", "strokeWidth": 4.5, "clip": false},
  "encoding": {
   "x": {"field": "m", "type": "quantitative", "axis": null},
   "y": {"field": "v", "type": "quantitative",
    "axis": {"orient": "right", "values": [0,50,100,150,200,250,300,350,400],
     "grid": false, "tickSize": 6, "tickColor": "#000", "domainColor": "#000", "domainWidth": 1.5,
     "labelFontSize": 7, "labelColor": "#333", "labelPadding": 2, "labelOverlap": false,
     "title": "Pulse Energy [uJ]", "titleFontSize": 8, "titleFontWeight": "normal",
     "titleColor": "#333", "titlePadding": 8, "titleAngle": 270}}}}
],
"resolve": {"scale": {"x": "shared", "y": "shared"}, "axis": {"x": "independent", "y": "independent"}}
}
